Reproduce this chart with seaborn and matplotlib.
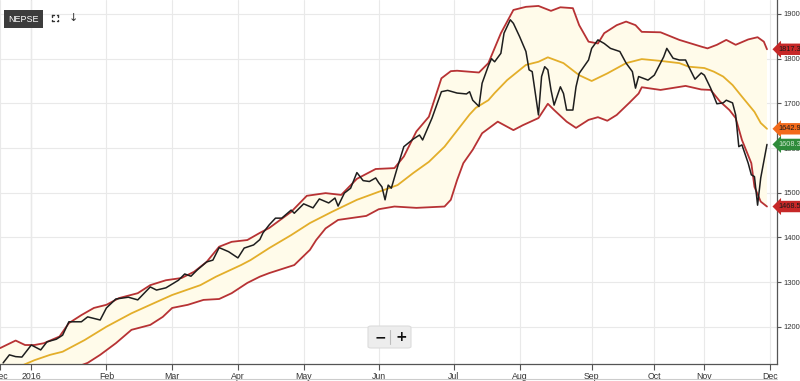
import numpy as np
import matplotlib
matplotlib.use("Agg")
import matplotlib.pyplot as plt
import matplotlib.transforms as mtransforms
from matplotlib.lines import Line2D
from matplotlib.patches import FancyBboxPatch
import seaborn as sns

# trading-session index -> value
close_x = [1, 3, 5, 7, 10, 13, 15, 18, 20, 22, 26, 28, 32, 34, 37, 41, 44, 48, 50, 53, 57, 59, 61, 63,
           66, 68, 70, 73, 76, 78, 81, 83, 84, 86, 88, 90, 93, 94, 97, 100, 102, 105, 107, 108, 110,
           112, 114, 116, 118, 120, 121, 122, 123, 124, 125, 127, 129, 132, 134, 135, 138, 141, 143,
           146, 149, 150, 151, 153, 154, 156, 157, 158, 160, 161, 163, 164, 166, 168, 169, 170, 172,
           173, 174, 175, 176, 177, 179, 180, 181, 183, 184, 185, 188, 189, 191, 193, 195, 198, 200,
           202, 203, 204, 207, 209, 212, 213, 215, 217, 219, 220, 222, 224, 225, 227, 229, 231, 232,
           234, 235, 236, 237, 239, 240, 241, 242, 243, 245]
close_y = [1119, 1137, 1133, 1132, 1159, 1148, 1166, 1172, 1181, 1211, 1211, 1222, 1215, 1242, 1262,
           1266, 1260, 1289, 1282, 1287, 1304, 1318, 1313, 1327, 1345, 1349, 1377, 1368, 1354, 1376,
           1383, 1395, 1410, 1428, 1443, 1443, 1461, 1454, 1475, 1466, 1486, 1477, 1488, 1470, 1499,
           1510, 1545, 1527, 1525, 1533, 1522, 1513, 1484, 1517, 1510, 1558, 1603, 1620, 1629, 1618,
           1667, 1726, 1729, 1723, 1721, 1726, 1707, 1693, 1745, 1784, 1800, 1793, 1812, 1857, 1887,
           1879, 1849, 1816, 1775, 1771, 1674, 1760, 1782, 1775, 1730, 1696, 1737, 1722, 1685, 1685,
           1737, 1767, 1797, 1823, 1842, 1834, 1823, 1816, 1790, 1771, 1734, 1760, 1752, 1763, 1804,
           1823, 1801, 1797, 1797, 1782, 1754, 1768, 1763, 1734, 1699, 1701, 1707, 1701, 1674, 1603,
           1607, 1566, 1540, 1536, 1472, 1533, 1608]

sma_x = [6, 9, 11, 16, 20, 27, 34, 42, 48, 55, 64, 69, 77, 80, 86, 93, 99, 106, 114, 121, 127, 132,
         137, 142, 145, 147, 150, 152, 156, 158, 162, 168, 172, 175, 180, 185, 189, 194, 200, 205,
         211, 217, 220, 225, 228, 231, 234, 237, 241, 243, 245]
sma_y = [1110, 1119, 1125, 1137, 1144, 1170, 1200, 1230, 1249, 1271, 1293, 1312, 1338, 1349, 1376,
         1405, 1432, 1457, 1484, 1502, 1517, 1544, 1569, 1603, 1630, 1648, 1675, 1690, 1707, 1723,
         1752, 1786, 1793, 1803, 1790, 1763, 1750, 1767, 1790, 1799, 1795, 1790, 1782, 1779, 1771,
         1760, 1741, 1715, 1681, 1656, 1643]

upper_x = [0, 5, 8, 11, 14, 19, 22, 26, 30, 34, 38, 44, 48, 53, 58, 62, 66, 70, 74, 79, 83, 86, 93,
           98, 104, 109, 114, 120, 126, 129, 133, 137, 141, 144, 146, 153, 156, 160, 164, 168, 172,
           176, 179, 183, 185, 188, 191, 193, 197, 200, 203, 205, 211, 217, 224, 226, 229, 232, 235,
           239, 242, 244, 245]
upper_y = [1152, 1169, 1159, 1159, 1163, 1178, 1208, 1226, 1242, 1249, 1264, 1275, 1293, 1304, 1309,
           1323, 1345, 1379, 1390, 1394, 1410, 1421, 1457, 1493, 1499, 1495, 1531, 1553, 1555, 1581,
           1637, 1670, 1756, 1772, 1773, 1769, 1790, 1857, 1909, 1916, 1918, 1907, 1915, 1913, 1875,
           1838, 1834, 1857, 1875, 1883, 1875, 1860, 1859, 1842, 1827, 1823, 1831, 1842, 1831, 1843,
           1848, 1838, 1821]

lower_x = [0, 13, 28, 32, 37, 42, 48, 52, 55, 60, 65, 70, 74, 79, 83, 86, 94, 99, 101, 104, 108,
           112, 117, 121, 126, 133, 142, 144, 146, 148, 151, 154, 159, 164, 167, 172, 175, 177, 181,
           184, 188, 191, 194, 197, 201, 204, 205, 211, 219, 224, 227, 230, 233, 235, 237, 240, 241,
           243, 245]
lower_y = [1050, 1080, 1119, 1137, 1163, 1193, 1204, 1222, 1242, 1249, 1260, 1262, 1275, 1298, 1312,
           1320, 1338, 1372, 1394, 1420, 1439, 1443, 1448, 1463, 1469, 1466, 1469, 1484, 1528, 1566,
           1596, 1633, 1659, 1640, 1651, 1667, 1699, 1685, 1659, 1645, 1663, 1669, 1661, 1674, 1701,
           1722, 1736, 1730, 1739, 1731, 1730, 1704, 1685, 1667, 1618, 1566, 1513, 1480, 1469]

month_pos = [0, 10, 34, 55, 76, 97, 121, 145, 166, 189, 209, 225, 246]
month_labels = ["Dec", "2016", "Feb", "Mar", "Apr", "May", "Jun", "Jul", "Aug", "Sep", "Oct", "Nov", "Dec"]
y_ticks = [1200, 1300, 1400, 1500, 1600, 1700, 1800, 1900]

last_labels = [("1817.3", 1821, "#c62828", "#1a1a1a"),
               ("1642.9", 1643, "#f26a1b", "#1a1a1a"),
               ("1608.3", 1608, "#2e8b3a", "#cfe8cf"),
               ("1468.5", 1469, "#c62828", "#1a1a1a")]

sns.set_style("white")
plt.rcParams['font.family'] = ['Liberation Sans Narrow', 'Liberation Sans', 'DejaVu Sans']

fig = plt.figure(figsize=(8, 3.81), dpi=100)
ax = fig.add_axes([0.0, 17 / 381, 777 / 800, 364 / 381])

# band fill
poly_x = np.concatenate([upper_x, lower_x[::-1]])
poly_y = np.concatenate([upper_y, lower_y[::-1]])
ax.fill(poly_x, poly_y, color="#fffbea", zorder=1, linewidth=0)

sns.lineplot(x=upper_x, y=upper_y, ax=ax, color="#b73234", linewidth=1.3, zorder=3)
sns.lineplot(x=lower_x, y=lower_y, ax=ax, color="#b73234", linewidth=1.3, zorder=3)
sns.lineplot(x=sma_x, y=sma_y, ax=ax, color="#e3ae2a", linewidth=1.3, zorder=3)
sns.lineplot(x=close_x, y=close_y, ax=ax, color="#1e1e1e", linewidth=1.1, zorder=4)

ax.set_xlim(0, 248.2)
ax.set_ylim(1116.5, 1931.3)

ax.set_xticks(month_pos)
ax.set_xticklabels(month_labels)
ax.set_yticks(y_ticks)
ax.set_yticklabels([f"{v:.1f}" for v in y_ticks])
ax.yaxis.tick_right()
ax.tick_params(axis="x", length=4, width=0.8, color="#555555", labelsize=6.3, labelcolor="#333333", pad=1.5,
               bottom=True, direction="out")
ax.tick_params(axis="y", length=3, width=0.8, color="#555555", labelsize=5.5, labelcolor="#333333", pad=2,
               right=True, direction="out")

ax.grid(True, color="#e9e9e9", linewidth=0.8, zorder=0)
ax.set_axisbelow(True)
ax.axvline(month_pos[1], color="#9a9a9a", linewidth=0.8, zorder=0.5)

for side in ["top", "left"]:
    ax.spines[side].set_visible(False)
for side in ["bottom", "right"]:
    ax.spines[side].set_color("#555555")
    ax.spines[side].set_linewidth(0.9)

# last value flags (cover the price ticks, cut at the right edge as in the source)
trans = mtransforms.blended_transform_factory(fig.transFigure, ax.transData)
for text, val, fc, tc in last_labels:
    ax.text(0.9735, val, text, transform=trans, fontsize=5.3, color=tc, va="center", ha="left",
            bbox=dict(boxstyle="larrow,pad=0.3", fc=fc, ec="none"), zorder=10, clip_on=False)

# title tag and icons
fig.text(8 / 800, 1 - 19 / 381, "NEPSE", fontsize=6.5, color="white", va="center", ha="left",
         bbox=dict(boxstyle="square,pad=0.45", fc="#3c3c3c", ec="none"))
cx, cy, s = 55 / 800, 1 - 18 / 381, 3.0
for dx, dy in [(-1, 1), (1, 1), (-1, -1), (1, -1)]:
    x0, y0 = cx + dx * s / 800, cy + dy * s / 381
    fig.add_artist(Line2D([x0, x0 - dx * 1.5 / 800], [y0, y0], color="#333333", linewidth=1.0))
    fig.add_artist(Line2D([x0, x0], [y0, y0 - dy * 1.5 / 381], color="#333333", linewidth=1.0))
fig.text(73 / 800, 1 - 18 / 381, "\u2193", fontsize=8, color="#333333", va="center", ha="center",
         family="DejaVu Sans")

# zoom buttons
fig.add_artist(FancyBboxPatch((368 / 800, 1 - 348 / 381), 43 / 800, 22 / 381,
                              boxstyle="round,pad=0,rounding_size=0.004", fc="#ededed", ec="#dcdcdc",
                              linewidth=0.8, transform=fig.transFigure))
fig.add_artist(Line2D([390 / 800, 390 / 800], [1 - 344 / 381, 1 - 330 / 381], color="#bdbdbd", linewidth=0.8))
fig.text(380 / 800, 1 - 337 / 381, "\u2212", fontsize=10, fontweight="bold", color="#111111",
         va="center", ha="center", family="DejaVu Sans")
fig.text(401 / 800, 1 - 337 / 381, "+", fontsize=10, fontweight="bold", color="#111111",
         va="center", ha="center", family="DejaVu Sans")

fig.add_artist(Line2D([0, 777 / 800], [2 / 381, 2 / 381], color="#cccccc", linewidth=0.8))

fig.savefig("out.png", dpi=100)
